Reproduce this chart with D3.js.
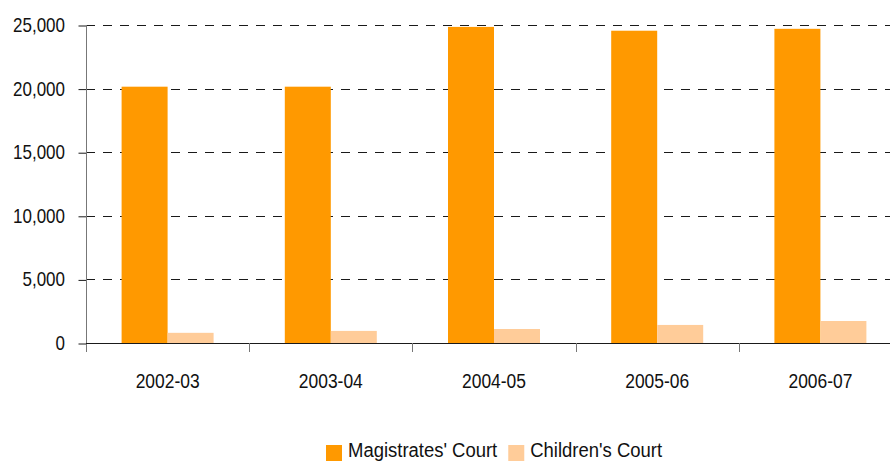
<!DOCTYPE html>
<html>
<head>
<meta charset="utf-8">
<script src="https://cdn.jsdelivr.net/npm/d3@7"></script>
<style>
  html, body { margin: 0; padding: 0; background: #fff; }
  svg text { font-family: "Liberation Sans Narrow", "Arial Narrow", "Liberation Sans", Arial, sans-serif; fill: #111; }
</style>
</head>
<body>
<div id="chart"></div>
<script>
let width = 890;
let height = 461;
let margin = ({top: 25, right: 0, bottom: 118, left: 86});

// data
let years = ["2002-03", "2003-04", "2004-05", "2005-06", "2006-07"];
let series = ["Magistrates' Court", "Children's Court"];
let magistrates = [20150, 20150, 24850, 24550, 24700];
let children = [800, 950, 1100, 1420, 1730];
let yTicks = [0, 5000, 10000, 15000, 20000, 25000];
let colors = ["#ff9900", "#ffcc99"];

let rows = years.map((y, i) => ({year: y, values: [magistrates[i], children[i]]}));

let svg = d3.select("#chart")
    .append("svg")
    .attr("width", width)
    .attr("height", height);

// the installed sans is wider than the original narrow face, so squeeze text a bit
let squeeze = 0.85;
function label(g, x, y, txt, size, anchor, sx) {
    return g.append("text")
        .attr("transform", "translate(" + x + "," + y + ") scale(" + sx + ",1)")
        .attr("text-anchor", anchor)
        .style("font-size", size + "px")
        .text(txt);
}

// category slots, chart runs slightly past the right edge
let slot = 163.2;
let xScale = d3.scaleBand()
    .domain(years)
    .range([margin.left, margin.left + slot * years.length])
    .padding(0);

let xSub = d3.scaleBand()
    .domain(series)
    .range([0, xScale.bandwidth()])
    .paddingInner(0)
    .paddingOuter(0.774);

let yScale = d3.scaleLinear()
    .domain([0, 25000])
    .range([height - margin.bottom, margin.top]);

let y0 = yScale(0);

// dashed grid lines
svg.append("g")
    .selectAll("line")
    .data(yTicks.filter(d => d > 0))
    .enter()
    .append("line")
    .attr("x1", margin.left)
    .attr("x2", width)
    .attr("y1", d => Math.round(yScale(d)) + 0.5)
    .attr("y2", d => Math.round(yScale(d)) + 0.5)
    .attr("stroke", "#1a1a1a")
    .attr("stroke-dasharray", "9,8");

// bars
let groups = svg.append("g")
    .selectAll("g")
    .data(rows)
    .enter()
    .append("g")
    .attr("transform", d => "translate(" + xScale(d.year) + ",0)");

groups.selectAll("rect")
    .data(d => d.values.map((v, i) => ({key: series[i], value: v, i: i})))
    .enter()
    .append("rect")
    .attr("x", d => xSub(d.key))
    .attr("width", xSub.bandwidth())
    .attr("y", d => yScale(d.value))
    .attr("height", d => y0 - yScale(d.value))
    .attr("fill", d => colors[d.i]);

// y axis: ticks from the axis generator, labels drawn separately so they can be squeezed
let yAxis = d3.axisLeft(yScale)
    .tickValues(yTicks)
    .tickFormat("")
    .tickSize(8);

let gy = svg.append("g")
    .attr("transform", "translate(" + (margin.left + 0.5) + ",0)")
    .call(yAxis);
gy.select(".domain").remove();
gy.selectAll(".tick line").attr("stroke", "#1a1a1a").attr("transform", "translate(0,0.5)");

let yLabels = svg.append("g");
yTicks.forEach(function(t) {
    label(yLabels, 65, yScale(t) + 7, d3.format(",")(t), 20, "end", squeeze);
});

svg.append("line")
    .attr("x1", margin.left + 0.5)
    .attr("x2", margin.left + 0.5)
    .attr("y1", margin.top)
    .attr("y2", y0 + 9)
    .attr("stroke", "#777");

// x axis
svg.append("line")
    .attr("x1", margin.left)
    .attr("x2", width)
    .attr("y1", Math.round(y0) + 0.5)
    .attr("y2", Math.round(y0) + 0.5)
    .attr("stroke", "#1a1a1a");

svg.append("g")
    .selectAll("line")
    .data(years.slice(1))
    .enter()
    .append("line")
    .attr("x1", d => Math.round(xScale(d)) + 0.5)
    .attr("x2", d => Math.round(xScale(d)) + 0.5)
    .attr("y1", y0)
    .attr("y2", y0 + 9)
    .attr("stroke", "#777");

let xLabels = svg.append("g");
years.forEach(function(y) {
    label(xLabels, xScale(y) + xScale.bandwidth() / 2, 388, y, 21, "middle", 0.83);
});

// legend
let legend = svg.append("g");
let lx = 326;
series.forEach(function(s, i) {
    legend.append("rect")
        .attr("x", lx)
        .attr("y", 445)
        .attr("width", 16)
        .attr("height", 16)
        .attr("fill", colors[i]);
    let t = label(legend, lx + 22, 457, s, 21, "start", 0.88);
    lx = lx + 22 + t.node().getComputedTextLength() * 0.88 + 11;
});
</script>
</body>
</html>
